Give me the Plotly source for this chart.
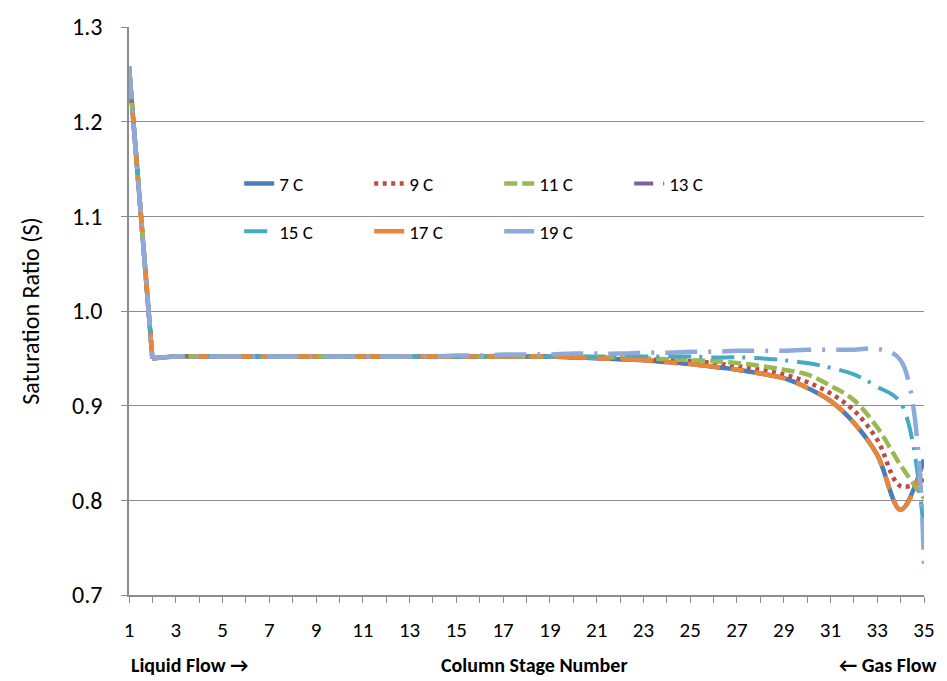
import plotly.graph_objects as go

stages = list(range(1, 36))

s7 = [1.258, 0.950, 0.952, 0.952, 0.952, 0.952, 0.952, 0.952, 0.952, 0.952,
      0.952, 0.952, 0.952, 0.952, 0.952, 0.952, 0.952, 0.952, 0.952, 0.951,
      0.950, 0.949, 0.948, 0.946, 0.944, 0.941, 0.938, 0.934, 0.929, 0.919,
      0.905, 0.882, 0.848, 0.790, 0.843]
s9 = [1.258, 0.950, 0.952, 0.952, 0.952, 0.952, 0.952, 0.952, 0.952, 0.952,
      0.952, 0.952, 0.952, 0.952, 0.952, 0.952, 0.952, 0.952, 0.952, 0.951,
      0.951, 0.950, 0.949, 0.948, 0.947, 0.945, 0.942, 0.938, 0.933, 0.925,
      0.913, 0.895, 0.864, 0.815, 0.822]
s11 = [1.258, 0.950, 0.952, 0.952, 0.952, 0.952, 0.952, 0.952, 0.952, 0.952,
       0.952, 0.952, 0.952, 0.952, 0.952, 0.952, 0.952, 0.952, 0.952, 0.952,
       0.951, 0.951, 0.950, 0.949, 0.948, 0.947, 0.945, 0.942, 0.938, 0.933,
       0.921, 0.906, 0.877, 0.837, 0.802]
s13 = [1.258, 0.950, 0.952, 0.952, 0.952, 0.952, 0.952, 0.952, 0.952, 0.952,
       0.952, 0.952, 0.952, 0.952, 0.952, 0.952, 0.952, 0.952, 0.952, 0.951,
       0.950, 0.949, 0.948, 0.946, 0.944, 0.941, 0.938, 0.934, 0.929, 0.919,
       0.905, 0.882, 0.848, 0.790, 0.843]
s15 = [1.258, 0.950, 0.952, 0.952, 0.952, 0.952, 0.952, 0.952, 0.952, 0.952,
       0.952, 0.952, 0.952, 0.952, 0.952, 0.952, 0.952, 0.952, 0.952, 0.952,
       0.952, 0.952, 0.952, 0.952, 0.952, 0.951, 0.951, 0.950, 0.948, 0.945,
       0.940, 0.933, 0.920, 0.903, 0.765]
s17 = [1.258, 0.950, 0.952, 0.952, 0.952, 0.952, 0.952, 0.952, 0.952, 0.952,
       0.952, 0.952, 0.952, 0.952, 0.952, 0.952, 0.952, 0.952, 0.952, 0.951,
       0.950, 0.949, 0.948, 0.946, 0.944, 0.941, 0.938, 0.934, 0.929, 0.919,
       0.905, 0.882, 0.848, 0.790, 0.838]
s19 = [1.258, 0.950, 0.952, 0.952, 0.952, 0.952, 0.952, 0.952, 0.952, 0.952,
       0.952, 0.952, 0.952, 0.952, 0.953, 0.953, 0.954, 0.954, 0.954, 0.955,
       0.955, 0.955, 0.956, 0.956, 0.957, 0.957, 0.958, 0.958, 0.958, 0.959,
       0.959, 0.959, 0.960, 0.948, 0.731]

series_names = ["7 C", "9 C", "11 C", "13 C", "15 C", "17 C", "19 C"]
series_values = [s7, s9, s11, s13, s15, s17, s19]
colors = ["#4A7EBB", "#BE4B48", "#98B954", "#7D60A0", "#46AAC5", "#EB8638", "#8EAADB"]
dashes = ["solid", "4px,4.5px", "13px,5px", "19px,10px", "23px,8px,3px,9px",
          "32px,11px,13px,11px", "32px,11px,3px,11px"]
widths = [4.5, 4.5, 4.5, 4.0, 4.0, 4.5, 4.5]
legends = ["legend", "legend", "legend", "legend", "legend2", "legend2", "legend2"]
# draw order: 13 C lies beneath the solid 7 C line
draw_order = [3, 0, 1, 2, 4, 5, 6]

font_family = "Carlito, Calibri, 'Liberation Sans Narrow', 'Open Sans', sans-serif"

fig = go.Figure()
for i in draw_order:
    style = dict(color=colors[i], width=widths[i], dash=dashes[i])
    # steep first segment drawn straight, remaining stages smoothed
    fig.add_trace(go.Scatter(
        x=stages[:2], y=series_values[i][:2], mode="lines",
        line=dict(**style, shape="linear"), showlegend=False,
        legendgroup=series_names[i], legend=legends[i], hoverinfo="skip",
    ))
    fig.add_trace(go.Scatter(
        x=stages[1:], y=series_values[i][1:], name=series_names[i], mode="lines",
        line=dict(**style, shape="spline", smoothing=1.0),
        legendgroup=series_names[i], legend=legends[i], legendrank=i + 1,
    ))

grid_c = "#8C8C8C"
fig.update_layout(
    width=947, height=681,
    margin=dict(l=129, r=17, t=20, b=86),
    paper_bgcolor="white", plot_bgcolor="white",
    font=dict(family=font_family, color="black"),
    xaxis=dict(range=[1, 35], tickmode="array", tickvals=list(range(1, 36, 2)),
               ticktext=[str(v) for v in range(1, 36, 2)],
               showgrid=False, zeroline=False, showline=True, linecolor=grid_c, linewidth=1.5,
               ticks="outside", ticklen=6, tickcolor=grid_c,
               minor=dict(tickvals=list(range(1, 36)), ticks="outside", ticklen=6, tickcolor=grid_c),
               tickfont=dict(size=21), ticklabelstandoff=9),
    yaxis=dict(range=[0.7, 1.3], dtick=0.1, tick0=0.7, tickformat=".1f",
               showgrid=True, gridcolor=grid_c, gridwidth=1.3, zeroline=False,
               showline=True, linecolor=grid_c, linewidth=1.5,
               ticks="outside", ticklen=6, tickcolor=grid_c,
               tickfont=dict(size=24), ticklabelstandoff=14,
               title=dict(text="Saturation Ratio (S)", font=dict(size=24), standoff=26)),
    legend=dict(orientation="h", x=0.1386, xanchor="left", y=0.724, yanchor="middle",
                bgcolor="rgba(0,0,0,0)", entrywidth=85, font=dict(size=19),
                traceorder="normal"),
    legend2=dict(orientation="h", x=0.1386, xanchor="left", y=0.64, yanchor="middle",
                 bgcolor="rgba(0,0,0,0)", entrywidth=85, font=dict(size=19),
                 traceorder="normal"),
    annotations=[
        dict(text="<b>Liquid Flow →</b>", xref="paper", yref="paper", x=0.0, y=-0.124,
             xanchor="left", yanchor="middle", showarrow=False, font=dict(size=20)),
        dict(text="<b>Column Stage Number</b>", xref="paper", yref="paper", x=0.51, y=-0.124,
             xanchor="center", yanchor="middle", showarrow=False, font=dict(size=20)),
        dict(text="<b>← Gas Flow</b>", xref="paper", yref="paper", x=1.019, y=-0.124,
             xanchor="right", yanchor="middle", showarrow=False, font=dict(size=20)),
    ],
)

fig.write_html("out.html")
